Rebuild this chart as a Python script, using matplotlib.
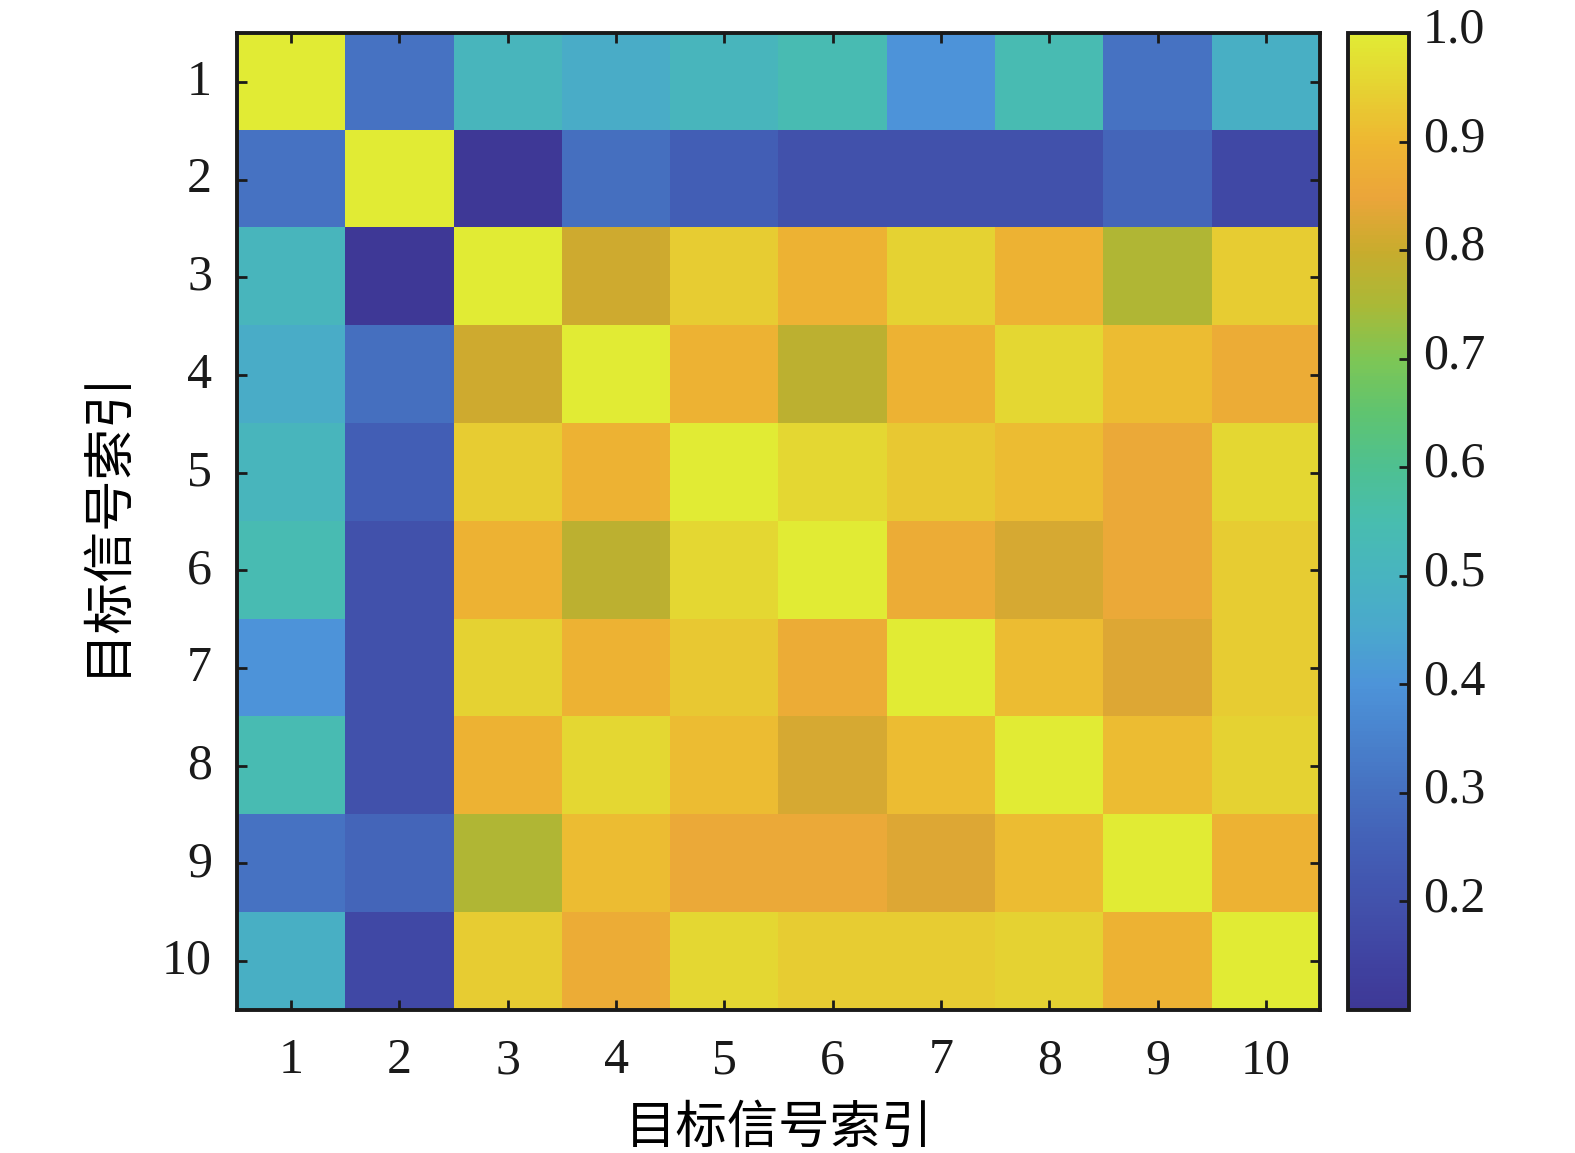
import matplotlib
matplotlib.use('Agg')
import matplotlib.pyplot as plt
import matplotlib.transforms as mtransforms
import numpy as np
from matplotlib.colors import LinearSegmentedColormap

# signal index labels
labels = [str(i) for i in range(1, 11)]

# similarity matrix (row = y index, col = x index)
row1 = [1.00, 0.31, 0.51, 0.47, 0.51, 0.54, 0.40, 0.54, 0.31, 0.48]
row2 = [0.31, 1.00, 0.10, 0.30, 0.25, 0.20, 0.20, 0.20, 0.27, 0.17]
row3 = [0.51, 0.10, 1.00, 0.81, 0.94, 0.89, 0.95, 0.89, 0.76, 0.94]
row4 = [0.47, 0.30, 0.81, 1.00, 0.89, 0.78, 0.89, 0.96, 0.91, 0.87]
row5 = [0.51, 0.25, 0.94, 0.89, 1.00, 0.96, 0.93, 0.91, 0.86, 0.96]
row6 = [0.54, 0.20, 0.89, 0.78, 0.96, 1.00, 0.87, 0.82, 0.86, 0.94]
row7 = [0.40, 0.20, 0.95, 0.89, 0.93, 0.87, 1.00, 0.91, 0.83, 0.94]
row8 = [0.54, 0.20, 0.89, 0.96, 0.91, 0.82, 0.91, 1.00, 0.91, 0.95]
row9 = [0.31, 0.27, 0.76, 0.91, 0.86, 0.86, 0.83, 0.91, 1.00, 0.89]
row10 = [0.48, 0.17, 0.94, 0.87, 0.96, 0.94, 0.94, 0.95, 0.89, 1.00]

cbar_ticks = [0.2, 0.3, 0.4, 0.5, 0.6, 0.7, 0.8, 0.9, 1.0]

# parula as it looks in the (printed) reference, sampled along its colour bar
cmap_vals = [0.10, 0.15, 0.20, 0.25, 0.30, 0.35, 0.40, 0.45, 0.50, 0.55,
             0.60, 0.65, 0.70, 0.75, 0.80, 0.85, 0.90, 0.95, 1.00]
cmap_rgb = [(62, 56, 150), (64, 68, 162), (66, 82, 172), (67, 95, 182), (70, 112, 192),
            (73, 130, 205), (77, 148, 217), (74, 168, 205), (72, 180, 192), (72, 189, 175),
            (78, 192, 145), (95, 196, 112), (125, 198, 85), (170, 185, 55), (200, 172, 45),
            (235, 165, 58), (238, 182, 50), (230, 210, 50), (225, 235, 52)]
vmin, vmax = cmap_vals[0], cmap_vals[-1]
cmap = LinearSegmentedColormap.from_list(
    'parula_print',
    [((v - vmin) / (vmax - vmin), tuple(c / 255 for c in rgb)) for v, rgb in zip(cmap_vals, cmap_rgb)])

data = np.array([row1, row2, row3, row4, row5, row6, row7, row8, row9, row10])

plt.rcParams['font.family'] = ['Liberation Serif', 'Noto Sans CJK SC']
cjk = ['Noto Sans CJK SC', 'DejaVu Sans']

fig = plt.figure(figsize=(15.75, 11.53), dpi=100)
ax = fig.add_axes([0.1505, 0.124, 0.6876, 0.8474])
cax = fig.add_axes([0.8559, 0.124, 0.0387, 0.8474])

im = ax.imshow(data, cmap=cmap, vmin=vmin, vmax=vmax, aspect='auto')
ax.set_xticks(range(10))
ax.set_xticklabels(labels)
ax.set_yticks(range(10))
ax.set_yticklabels(labels)
ax.tick_params(direction='in', length=7, width=2, labelsize=36,
               top=True, right=True, pad=18, colors='#1a1a1a')
ax.tick_params(axis='x', pad=20)
for s in ax.spines.values():
    s.set_linewidth(2.8)
    s.set_color('#1a1a1a')
ax.set_xlabel('目标信号索引', family=cjk, fontsize=37, labelpad=12)
ax.set_ylabel('目标信号索引', family=cjk, fontsize=37, labelpad=22)

cb = fig.colorbar(im, cax=cax, ticks=cbar_ticks)
cb.ax.set_yticklabels(['%.1f' % t for t in cbar_ticks])
cb.ax.tick_params(direction='in', length=7, width=2, labelsize=36, pad=10, colors='#1a1a1a')
cb.outline.set_linewidth(2.8)
cb.outline.set_edgecolor('#1a1a1a')

# matlab puts the y tick labels a little above the tick
up5 = mtransforms.ScaledTranslation(0, 5 / 100, fig.dpi_scale_trans)
up8 = mtransforms.ScaledTranslation(0, 8 / 100, fig.dpi_scale_trans)
for lab in ax.get_yticklabels():
    lab.set_transform(lab.get_transform() + up5)
for lab in cb.ax.get_yticklabels():
    lab.set_transform(lab.get_transform() + up8)

plt.savefig('out.png', dpi=100)
